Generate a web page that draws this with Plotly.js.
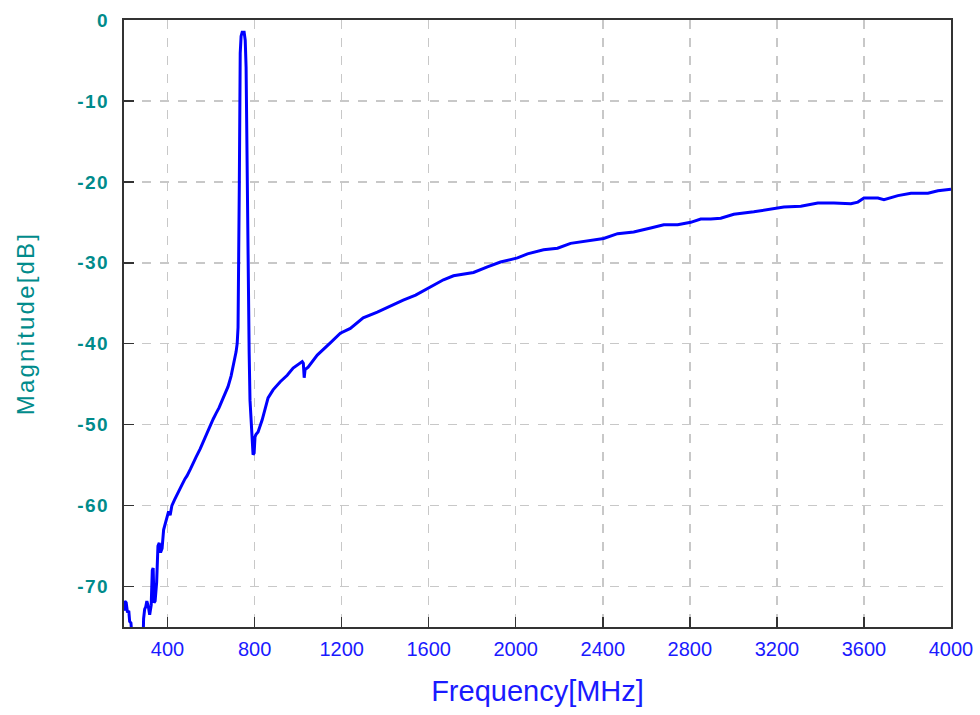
<!DOCTYPE html>
<html>
<head>
<meta charset="utf-8">
<script src="https://cdn.plot.ly/plotly-3.0.1.min.js"></script>
<style>
html,body{margin:0;padding:0;background:#fff;}
#chart{width:980px;height:715px;}
#chart .ytitle{letter-spacing:2.2px;}
#chart .ytick text{letter-spacing:1.5px;}
</style>
</head>
<body>
<div id="chart"></div>
<script>
const frequencyMHz = [200,204,210,216,222,226,232,236,240,285,290,295,300,305,312,318,325,330,334,338,343,350,356,362,368,375,382,390,398,405,412,420,432,445,455,465,480,490,505,517,531,550,568,583,596,610,623,637,651,665,678,692,705,715,720,724,730,734,738,743,752,757,761,766,770,775,779,784,789,793,798,802,807,816,835,849,862,885,918,950,977,1019,1024,1028,1032,1046,1088,1148,1194,1240,1299,1364,1424,1483,1540,1608,1668,1714,1760,1806,1870,1930,2008,2054,2128,2192,2252,2330,2404,2468,2542,2620,2680,2744,2804,2850,2896,2942,3002,3094,3172,3232,3310,3388,3462,3540,3572,3600,3664,3692,3756,3816,3894,3940,4000];
const magnitudeDB = [-73,-71.8,-72,-73.2,-73,-74.3,-74.5,-76,-80,-80,-74,-72.8,-72.5,-71.8,-72.5,-73.5,-72.3,-68,-67.7,-72,-71.8,-69.5,-65,-64.6,-65.8,-65.3,-63,-62.2,-61.5,-60.7,-61.2,-60,-59.3,-58.5,-58.1,-57.5,-56.7,-56.3,-55.5,-54.7,-54,-53,-51.9,-51,-50,-49.3,-48.6,-47.9,-47,-46.2,-45.3,-44,-42.5,-41,-40,-38,-20,-4.1,-2,-1.5,-1.5,-2.5,-5.8,-22,-35,-41,-47,-49.4,-52,-53.7,-53.5,-51.5,-51.2,-50.9,-49.4,-47.8,-46.7,-45.7,-44.7,-43.9,-43,-42.2,-42.4,-44.2,-43.2,-42.9,-41.4,-39.9,-38.7,-38.1,-36.8,-36.1,-35.3,-34.6,-34,-33,-32.1,-31.6,-31.4,-31.2,-30.5,-29.9,-29.4,-28.9,-28.4,-28.2,-27.6,-27.3,-27.0,-26.4,-26.2,-25.7,-25.3,-25.3,-25.0,-24.6,-24.6,-24.5,-24.0,-23.7,-23.4,-23.1,-23.0,-22.6,-22.6,-22.7,-22.5,-22.0,-22.0,-22.2,-21.7,-21.4,-21.4,-21.1,-20.9];
const xTickValues = [400,800,1200,1600,2000,2400,2800,3200,3600,4000];
const xTickLabels = ['400','800','1200','1600','2000','2400','2800','3200','3600','4000'];
const yTickValues = [0,-10,-20,-30,-40,-50,-60,-70];
const yTickLabels = ['0','-10','-20','-30','-40','-50','-60','-70'];

const sans = '"Liberation Sans", Arial, sans-serif';

Plotly.newPlot('chart', [{
  x: frequencyMHz,
  y: magnitudeDB,
  type: 'scatter',
  mode: 'lines',
  line: {color: '#0000ff', width: 3},
  hoverinfo: 'x+y'
}], {
  width: 980, height: 715,
  margin: {l: 124, r: 29, t: 20, b: 88},
  paper_bgcolor: '#ffffff', plot_bgcolor: '#ffffff',
  showlegend: false,
  xaxis: {
    range: [200, 4000],
    tickvals: xTickValues, ticktext: xTickLabels,
    ticks: 'inside', ticklen: 10, tickwidth: 1.5, tickcolor: '#333333',
    showline: true, linecolor: '#333333', linewidth: 2, mirror: true,
    showgrid: true, gridcolor: '#c8c8c8', gridwidth: 1.5, griddash: 'dash',
    zeroline: false,
    tickfont: {family: sans, size: 20, color: '#1a1aff'},
    ticklabelstandoff: 3,
    title: {text: 'Frequency[MHz]', font: {family: sans, size: 29, color: '#1a1aff'}, standoff: 22}
  },
  yaxis: {
    range: [-75, 0],
    tickvals: yTickValues, ticktext: yTickLabels,
    ticks: 'inside', ticklen: 10, tickwidth: 1.5, tickcolor: '#333333',
    showline: true, linecolor: '#333333', linewidth: 2, mirror: true,
    showgrid: true, gridcolor: '#c8c8c8', gridwidth: 1.5, griddash: 'dash',
    zeroline: false,
    tickfont: {family: sans, size: 19, color: '#008b8b', weight: 'bold'},
    ticklabelstandoff: 9,
    title: {text: 'Magnitude[dB]', font: {family: sans, size: 24, color: '#008b8b'}, standoff: 40}
  }
}, {displayModeBar: false, staticPlot: true});
</script>
</body>
</html>
